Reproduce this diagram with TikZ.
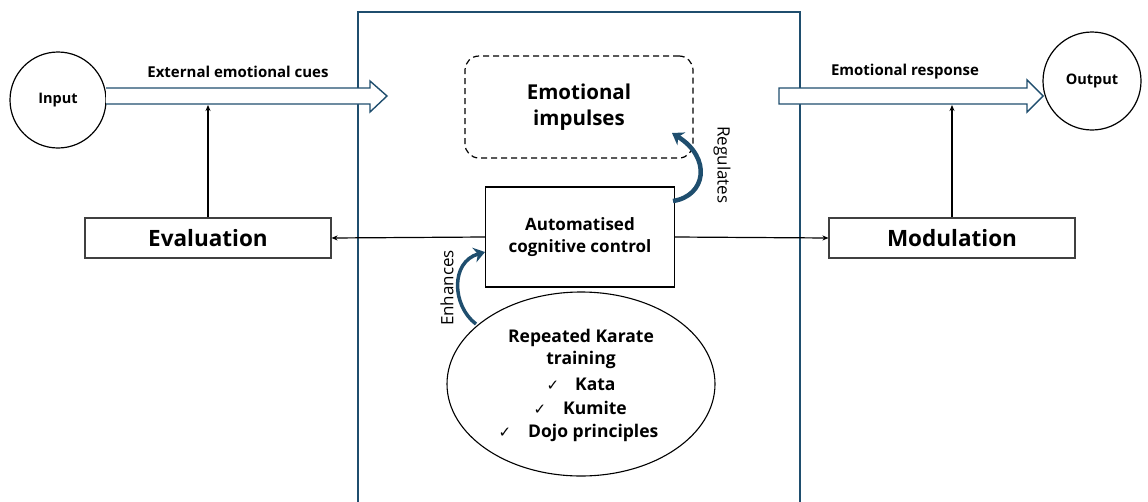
\documentclass[tikz,border=0pt]{standalone}
\usepackage{fontspec}
\setmainfont{Open Sans}
\newfontfamily\symfont{DejaVu Sans}
\usetikzlibrary{arrows.meta,calc,shapes.geometric}
\definecolor{navy}{RGB}{31,78,110}
\begin{document}
\begin{tikzpicture}[x=1pt,y=-1pt,
  lbl/.style={font=\bfseries\fontsize{15}{17}\selectfont},
  sidebox/.style={draw=black!75, line width=1.1, minimum width=246, minimum height=40, inner sep=0, font=\bfseries\fontsize{22.5}{25}\selectfont},
  blockarrow/.style={draw=navy, line width=1.4, fill=white, line join=miter},
  thin/.style={line width=1.2, -{Stealth[length=6,width=5]}},
  curved/.style={navy, line width=4.5, -{Stealth[length=11,width=15]}},
  sidelbl/.style={font=\fontsize{17}{19}\selectfont},
  kline/.style={font=\bfseries\fontsize{17.5}{20}\selectfont, inner sep=0, anchor=base west},
  check/.style={font=\symfont\fontsize{15}{17}\selectfont, inner sep=0, anchor=base}]
\useasboundingbox (0,0) rectangle (1148,501);
% frame
\draw[navy, line width=1.6] (358,505) -- (358,12) -- (800,12) -- (800,505);
% nodes
\node[circle, draw, line width=1.2, minimum size=96, inner sep=0, font=\bfseries\fontsize{14.5}{16}\selectfont] (in) at (58,100) {Input};
\node[circle, draw, line width=1.2, minimum size=98, inner sep=0, font=\bfseries\fontsize{14.5}{16}\selectfont] (out) at (1092,81) {Output};
\node[sidebox] (eval) at (208,238) {Evaluation};
\node[sidebox] (mod) at (952,238) {Modulation};
\node[draw, rounded corners=14, line width=1.2, dash pattern=on 6pt off 4pt, minimum width=228, minimum height=102, align=center, font=\bfseries\fontsize{20.5}{26}\selectfont] (imp) at (579,107) {Emotional\\impulses};
\node[draw, line width=1.2, minimum width=189, minimum height=100, align=center, font=\bfseries\fontsize{17}{22}\selectfont] (acc) at (580,237) {Automatised\\cognitive control};
\node[ellipse, draw, line width=1.1, minimum width=268, minimum height=184, inner sep=0] (kar) at (581,384) {};
\node[align=center, font=\bfseries\fontsize{17.5}{22}\selectfont, inner sep=0] (kartxt) at (581,349) {Repeated Karate\\training};
\node[check] (c1) at (553,390) {✓};
\node[kline] (k1) at (575,390) {Kata};
\node[check] (c2) at (540,414) {✓};
\node[kline] (k2) at (563,414) {Kumite};
\node[check] (c3) at (505,437) {✓};
\node[kline] (k3) at (528,437) {Dojo principles};
% block arrows
\coordinate (a1s) at (106,96);
\coordinate (a1t) at (387,96);
\draw[blockarrow] ($(a1s)+(0,-8)$) -- ($(a1t)+(-17,-8)$) -- ($(a1t)+(-17,-15)$) -- (a1t) -- ($(a1t)+(-17,16)$) -- ($(a1t)+(-17,8)$) -- ($(a1s)+(0,8)$);
\coordinate (a2s) at (779,96);
\draw[blockarrow] ($(a2s)+(0,-8)$) -- ($(a2s)+(248,-8)$) -- ($(a2s)+(248,-16)$) -- ($(a2s)+(264,0)$) -- ($(a2s)+(248,16)$) -- ($(a2s)+(248,8)$) -- ($(a2s)+(0,8)$) -- cycle;
\node[lbl] (l1) at (238,72) {External emotional cues};
\node[lbl] (l2) at (905,72) {Emotional response};
% thin arrows
\coordinate (e1) at (208,105);
\coordinate (m1) at (952,105);
\draw[thin] (eval.north) -- (e1);
\draw[thin] (mod.north) -- (m1);
\draw[thin] (acc.west) -- (eval.east);
\draw[thin] (acc.east) -- (mod.west);
% curved arrows
\coordinate (r0) at (673,201);
\coordinate (r1) at (672,133);
\draw[curved] (r0) .. controls (706,196) and (712,158) .. (r1);
\coordinate (n0) at (476,324);
\coordinate (n1) at (485,252);
\draw[curved, line width=3.5] (n0) .. controls (452,306) and (450,262) .. (n1);
\node[sidelbl, rotate=-90] (reg) at (722,165) {Regulates};
\node[sidelbl, rotate=90] (enh) at (447,288) {Enhances};
\end{tikzpicture}
\end{document}
